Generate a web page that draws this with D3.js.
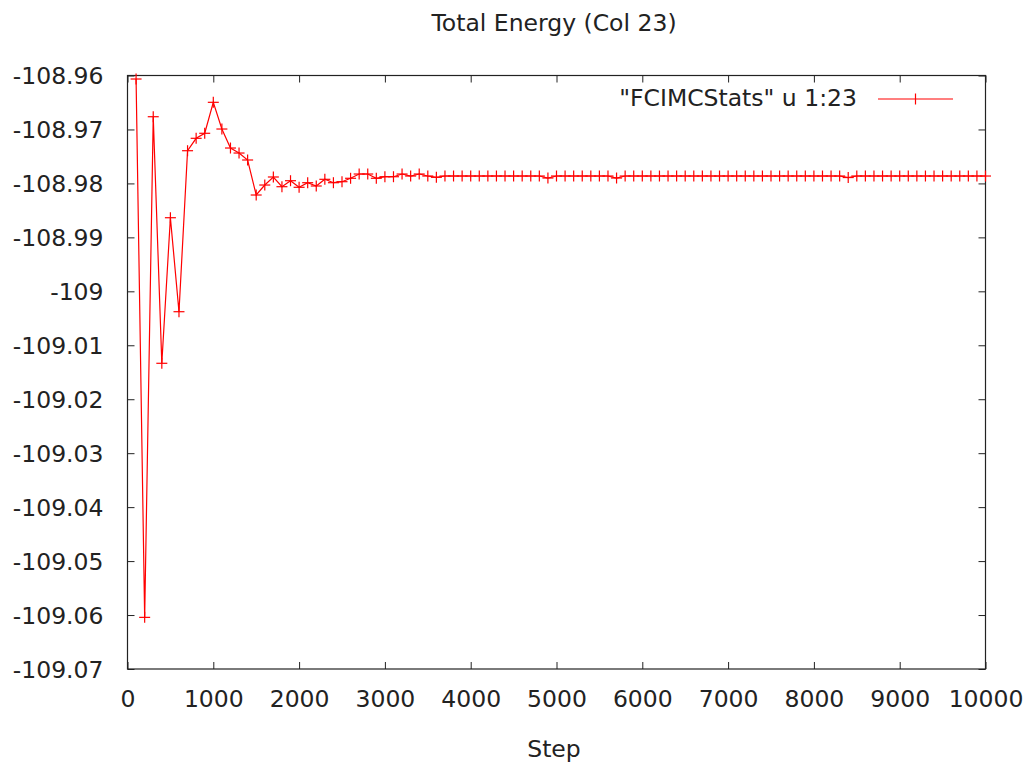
<!DOCTYPE html>
<html>
<head>
<meta charset="utf-8">
<script src="https://cdn.jsdelivr.net/npm/d3@7"></script>
<style>
  html, body { margin: 0; padding: 0; background: #fff; }
  svg { display: block; }
  text { font-family: "DejaVu Sans", sans-serif; fill: #222; }
</style>
</head>
<body>
<svg id="chart" width="1030" height="764"></svg>
<script>
const title = "Total Energy (Col 23)";
const xLabel = "Step";
const legendLabel = "\"FCIMCStats\" u 1:23";

const steps = [
  100, 200, 300, 400, 500, 600, 700, 800, 900, 1000,
  1100, 1200, 1300, 1400, 1500, 1600, 1700, 1800, 1900, 2000,
  2100, 2200, 2300, 2400, 2500, 2600, 2700, 2800, 2900, 3000,
  3100, 3200, 3300, 3400, 3500, 3600, 3700, 3800, 3900, 4000,
  4100, 4200, 4300, 4400, 4500, 4600, 4700, 4800, 4900, 5000,
  5100, 5200, 5300, 5400, 5500, 5600, 5700, 5800, 5900, 6000,
  6100, 6200, 6300, 6400, 6500, 6600, 6700, 6800, 6900, 7000,
  7100, 7200, 7300, 7400, 7500, 7600, 7700, 7800, 7900, 8000,
  8100, 8200, 8300, 8400, 8500, 8600, 8700, 8800, 8900, 9000,
  9100, 9200, 9300, 9400, 9500, 9600, 9700, 9800, 9900, 10000
];

const energy = [
  -108.96065, -109.06043, -108.96764, -109.01334, -108.98636, -109.00378, -108.97394, -108.97164, -108.97071, -108.96497,
  -108.96992, -108.97344, -108.97437, -108.97566, -108.98215, -108.98030, -108.97881, -108.98061, -108.97950, -108.98072,
  -108.97987, -108.98048, -108.97924, -108.97987, -108.97968, -108.97905, -108.97826, -108.97826, -108.97905, -108.97876,
  -108.97876, -108.97826, -108.97863, -108.97826, -108.97863, -108.97887, -108.97863, -108.97863, -108.97863, -108.97863,
  -108.97863, -108.97863, -108.97863, -108.97863, -108.97863, -108.97863, -108.97863, -108.97863, -108.97900, -108.97863,
  -108.97863, -108.97863, -108.97863, -108.97863, -108.97863, -108.97863, -108.97900, -108.97863, -108.97863, -108.97863,
  -108.97863, -108.97863, -108.97863, -108.97863, -108.97863, -108.97863, -108.97863, -108.97863, -108.97863, -108.97863,
  -108.97863, -108.97863, -108.97863, -108.97863, -108.97863, -108.97863, -108.97863, -108.97863, -108.97863, -108.97863,
  -108.97863, -108.97863, -108.97863, -108.97891, -108.97863, -108.97863, -108.97863, -108.97863, -108.97863, -108.97863,
  -108.97863, -108.97863, -108.97863, -108.97863, -108.97863, -108.97863, -108.97863, -108.97863, -108.97863, -108.97863
];

const xTicks = [0, 1000, 2000, 3000, 4000, 5000, 6000, 7000, 8000, 9000, 10000];
const yTicks = [-108.96, -108.97, -108.98, -108.99, -109, -109.01, -109.02, -109.03, -109.04, -109.05, -109.06, -109.07];
const yTickLabels = ["-108.96", "-108.97", "-108.98", "-108.99", "-109", "-109.01", "-109.02", "-109.03", "-109.04", "-109.05", "-109.06", "-109.07"];

const L = 127.5, R = 985.5, T = 75.5, B = 669;
const FS = 23.5;
const svg = d3.select("#chart");

const x = d3.scaleLinear().domain([0, 10000]).range([L, R]);
const y = d3.scaleLinear().domain([-108.96, -109.07]).range([T, B]);

const axisColor = "#222";
const tickLen = 7;

// Bottom axis (ticks inward)
const gx = svg.append("g").attr("transform", `translate(0,${B})`)
  .call(d3.axisBottom(x).tickValues(xTicks).tickSize(-tickLen).tickPadding(0).tickFormat(d3.format("d")));
gx.select(".domain").remove();
gx.selectAll("line").attr("stroke", axisColor);
gx.selectAll("text").attr("font-size", FS).attr("y", 38).attr("dy", 0).attr("fill", "#222");

// Top axis mirror ticks
const gxt = svg.append("g").attr("transform", `translate(0,${T})`)
  .call(d3.axisTop(x).tickValues(xTicks).tickSize(-tickLen).tickFormat(""));
gxt.select(".domain").remove();
gxt.selectAll("line").attr("stroke", axisColor);

// Left axis
const gy = svg.append("g").attr("transform", `translate(${L},0)`)
  .call(d3.axisLeft(y).tickValues(yTicks).tickSize(-tickLen).tickPadding(0)
    .tickFormat((d, i) => yTickLabels[i]));
gy.select(".domain").remove();
gy.selectAll("line").attr("stroke", axisColor);
gy.selectAll("text").attr("font-size", FS).attr("x", -24).attr("dy", "0.36em").attr("fill", "#222");

// Right axis mirror ticks
const gyr = svg.append("g").attr("transform", `translate(${R},0)`)
  .call(d3.axisRight(y).tickValues(yTicks).tickSize(-tickLen).tickFormat(""));
gyr.select(".domain").remove();
gyr.selectAll("line").attr("stroke", axisColor);

// Border
svg.append("rect").attr("x", L).attr("y", T).attr("width", R - L).attr("height", B - T)
  .attr("fill", "none").attr("stroke", axisColor).attr("stroke-width", 1.2);

// Data line
const line = d3.line().x((d, i) => x(steps[i])).y(d => y(d));
svg.append("path").datum(energy).attr("d", line)
  .attr("fill", "none").attr("stroke", "#ff0000").attr("stroke-width", 1.2);

// Markers "+"
const ms = 5.5;
const plus = svg.append("g").attr("stroke", "#ff0000").attr("stroke-width", 1.2);
energy.forEach((v, i) => {
  const cx = x(steps[i]), cy = y(v);
  plus.append("line").attr("x1", cx - ms).attr("x2", cx + ms).attr("y1", cy).attr("y2", cy);
  plus.append("line").attr("x1", cx).attr("x2", cx).attr("y1", cy - ms).attr("y2", cy + ms);
});

// Legend
svg.append("text").attr("x", 857).attr("y", 106).attr("text-anchor", "end")
  .attr("font-size", FS).text(legendLabel);
svg.append("line").attr("x1", 878).attr("x2", 953).attr("y1", 99).attr("y2", 99)
  .attr("stroke", "#ff0000").attr("stroke-width", 1.2);
svg.append("line").attr("x1", 915.5).attr("x2", 915.5).attr("y1", 99 - ms).attr("y2", 99 + ms)
  .attr("stroke", "#ff0000").attr("stroke-width", 1.2);

// Title and axis label
svg.append("text").attr("x", 554).attr("y", 31).attr("text-anchor", "middle")
  .attr("font-size", FS).text(title);
svg.append("text").attr("x", 554).attr("y", 757).attr("text-anchor", "middle")
  .attr("font-size", FS).text(xLabel);
</script>
</body>
</html>
